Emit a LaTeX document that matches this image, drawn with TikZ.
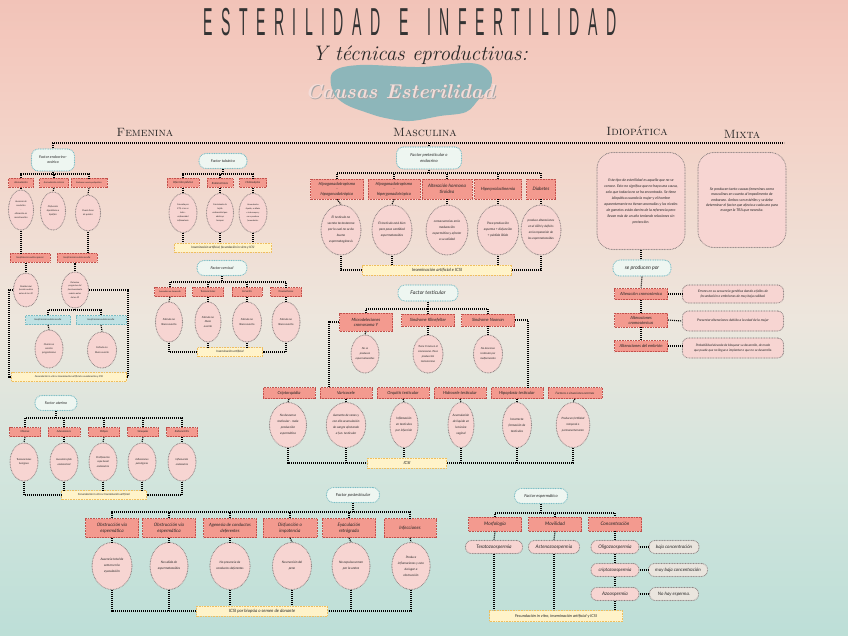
\documentclass[tikz,border=0pt]{standalone}
\usepackage{fontspec}
\newfontfamily\hand{Lato}
\newfontfamily\titlefont[LetterSpace=60]{Liberation Sans}
\usetikzlibrary{shapes.geometric,calc}
\definecolor{c0}{HTML}{A7D6D0}
\definecolor{c1}{HTML}{B4DCD5}
\definecolor{c2}{HTML}{D3E5DD}
\definecolor{c3}{HTML}{EDE6DD}
\definecolor{c4}{HTML}{F3D3C8}
\definecolor{c5}{HTML}{F2B9AE}
\definecolor{c6}{HTML}{F1ADA1}
\definecolor{redF}{HTML}{F39A8F}
\definecolor{redD}{HTML}{C2504C}
\definecolor{pinkF}{HTML}{F7D5D2}
\definecolor{grayD}{HTML}{8E8383}
\definecolor{mintF}{HTML}{EEF6F1}
\definecolor{tealD}{HTML}{78BCC4}
\definecolor{tealF}{HTML}{BFE1E3}
\definecolor{yelF}{HTML}{FFF3C9}
\definecolor{yelD}{HTML}{EFBE5E}
\definecolor{grayF}{HTML}{EAE5DE}
\definecolor{blob}{HTML}{8DB6BA}
\definecolor{causas}{HTML}{F4DCD8}
\pgfdeclareverticalshading{bgsh}{100bp}{color(0bp)=(c0); color(20bp)=(c1); color(38bp)=(c2); color(50bp)=(c3); color(64bp)=(c4); color(82bp)=(c5); color(100bp)=(c6)}
\tikzset{
  conn/.style={draw=black, line width=1.1pt, dash pattern=on 1.1pt off 0.9pt},
  fs/.style n args={2}{font=\hand\itshape\fontsize{#1}{#2}\selectfont},
  base/.style={align=center, inner sep=0.5pt, text=black!85, fs={3}{4}},
  redbox/.style n args={2}{base, rectangle, fill=redF, draw=redD, line width=0.7pt, dash pattern=on 0.9pt off 0.7pt, minimum width=#1, minimum height=#2},
  ell/.style n args={2}{base, ellipse, fill=pinkF, draw=grayD, line width=1.1pt, dash pattern=on 0pt off 1.6pt, line cap=round, minimum width=#1, minimum height=#2},
  tealbox/.style n args={2}{base, rectangle, rounded corners=7pt, fill=mintF, draw=tealD, line width=1.2pt, dash pattern=on 0pt off 1.7pt, line cap=round, minimum width=#1, minimum height=#2},
  tealrect/.style n args={2}{base, rectangle, fill=tealF, draw=tealD, line width=0.7pt, dash pattern=on 0.9pt off 0.7pt, minimum width=#1, minimum height=#2},
  yel/.style n args={2}{base, rectangle, fill=yelF, draw=yelD, line width=0.9pt, dash pattern=on 0.9pt off 0.7pt, minimum width=#1, minimum height=#2},
  pill/.style n args={2}{base, rectangle, rounded corners=6pt, fill=pinkF, draw=grayD, line width=1.1pt, dash pattern=on 0pt off 1.6pt, line cap=round, minimum width=#1, minimum height=#2},
  gpill/.style n args={2}{base, rectangle, rounded corners=6pt, fill=grayF, draw=grayD, line width=1.1pt, dash pattern=on 0pt off 1.6pt, line cap=round, minimum width=#1, minimum height=#2},
  bigbox/.style n args={2}{base, rectangle, rounded corners=16pt, fill=pinkF, draw=grayD, line width=1.1pt, dash pattern=on 0pt off 1.6pt, line cap=round, minimum width=#1, minimum height=#2},
  head/.style={font=\scshape\fontsize{12}{12}\selectfont, text=black!85}
}
\newcommand\tree[5]{%
  \draw[conn] (#1.south) -- (#1.south |- #2);
  \draw[conn] (#3.north) -- (#3.north |- #2) -- (#4.north |- #2) -- (#4.north);
  \foreach \c in {#5} {\draw[conn] (\c.north) -- (\c.north |- #2);}
}
\begin{document}
\begin{tikzpicture}[x=1pt,y=-1pt]
\useasboundingbox (0,0) rectangle (848,636);
\shade[shading=bgsh] (0,0) rectangle (848,636);
% ---------------- title
\fill[blob] plot[smooth cycle, tension=0.6] coordinates {(333,72) (360,65) (420,67) (470,63) (489,71) (491,86) (479,99) (466,112) (440,116) (410,121) (385,118) (365,112) (345,104) (333,92)};
\node[text=black!80] (title) at (410,22) {\scalebox{0.47}[1.3]{\titlefont\fontsize{30}{30}\selectfont ESTERILIDAD\hspace*{40pt}E\hspace*{40pt}INFERTILIDAD}};
\node[text=black!85] (subtitle) at (420,55) {\fontsize{21}{21}\selectfont\itshape Y técnicas eproductivas:};
\node[text=black!35] at (401,93) {\fontsize{20}{20}\selectfont\bfseries\itshape Causas Esterilidad};
\node[text=causas] (causas) at (400,92) {\fontsize{20}{20}\selectfont\bfseries\itshape Causas Esterilidad};
% headers
\node[head] (hFem) at (145,132) {Femenina};
\node[head] (hMas) at (425,132) {Masculina};
\node[head] (hIdi) at (637,131) {Idiopática};
\node[head] (hMix) at (742,134) {Mixta};
\coordinate (hL) at (52,143);
\coordinate (hR) at (784,143);
\draw[conn] (hL) -- (hR);
% ================= FEMENINA
% endocrino-ovarico
\node[tealbox={43}{22}, fs={3.8}{4.8}] (fEnd) at (53,160) {Factor endocrino-\\ovárico};
\node[redbox={25}{9}, fs={2.6}{3}] (anov) at (21,183) {Anovulación};
\node[redbox={29}{9}, fs={2.4}{3}] (anovc) at (54,183) {Anovulación crónica};
\node[redbox={36}{9}, fs={2.2}{3}] (sop) at (89,183) {Síndrome ovario poliquístico};
\node[ell={25}{40}, fs={2.3}{4}] (eAnov) at (21,210) {Ausencia de\\ovulación\\-\\alteración en\\menstruación};
\node[ell={25}{38}, fs={2.3}{4}] (eAnovc) at (53,211) {Disfunción\\hipotálamo e\\hipófisis};
\node[ell={25}{36}, fs={2.3}{4}] (eSop) at (88,213) {Ovario lleno\\de quistes};
\node[redbox={40}{9}, fs={2.4}{3}] (iop) at (30,258) {Insuficiencia ovárica precoz};
\node[redbox={40}{9}, fs={2.4}{3}] (ioo) at (77,258) {Insuficiencia ovárica oculta};
\node[ell={25}{34}, fs={2.2}{3.8}] (ePt) at (26,290) {Pérdida total\\función ovárica\\antes de los 40};
\node[ell={27}{36}, fs={2.2}{3.8}] (eDet) at (75,290) {Deterioro\\progresivo del\\funcionamiento\\ovárico antes\\de los 40};
\node[tealrect={45}{9}, fs={2.4}{3}] (tIo1) at (48,320) {Insuficiencia ovárica oculta};
\node[tealrect={50}{9}, fs={2.4}{3}] (tIo2) at (101,320) {Insuficiencia ovárica oculta};
\node[ell={28}{38}, fs={2.5}{4.2}] (eOv) at (49,349) {Ovario no\\secreta\\progesterona};
\node[ell={29}{36}, fs={2.5}{4.2}] (eFol) at (102,350) {Folículo no\\libera ovocito};
\node[yel={115}{9}, fs={2.5}{3}] (yFem1) at (69,377) {Fecundación in vitro e Inseminación artificial o ovodonación y ICSI};
\coordinate (bE) at (0,174);
\coordinate (bIo) at (0,310);
\coordinate (cR) at (128,290);
\tree{fEnd}{bE}{anov}{sop}{anovc}
\draw[conn] (fEnd.north) -- (fEnd.north |- hL);
\draw[conn] (anov.south) -- (eAnov.north);
\draw[conn] (anovc.south) -- (eAnovc.north);
\draw[conn] (sop.south) -- (eSop.north);
\draw[conn] (eAnov.south) -- (eAnov.south |- iop.north);
\draw[conn] (eSop.south) -- (eSop.south |- ioo.north);
\draw[conn] (ePt.north) -- (ePt.north |- iop.south);
\draw[conn] (eDet.north) -- (eDet.north |- ioo.south);
\tree{eDet}{bIo}{tIo1}{tIo2}{tIo2}
\draw[conn] (tIo1.south) -- (eOv.north);
\draw[conn] (tIo2.south) -- (eFol.north);
\draw[conn] (ePt.west) -- ++(-4,0) |- (yFem1.west);
\draw[conn] (eDet.east) -- (cR) |- (yFem1.east);
% tubarico
\node[tealbox={48}{15}, fs={3.8}{4.8}] (fTub) at (223,161) {Factor tubárico};
\node[redbox={32}{9}, fs={2.9}{3.4}] (infp) at (183,183) {Infección pélvica};
\node[redbox={26}{9}, fs={2.8}{3.4}] (endo) at (220,183) {Endometriosis};
\node[redbox={27}{9}, fs={2.8}{3.4}] (hidro) at (253,183) {Hidrosalpinx};
\node[ell={28}{39}, fs={2.2}{4}] (eInf) at (183,213) {Causada por\\ETS, si no se\\trata -\\enfermedad\\inflamatoria};
\node[ell={27}{39}, fs={2.2}{4}] (eEndo) at (220,213) {Crecimiento de\\tejido\\endometrial que\\obstruye\\trompas};
\node[ell={28}{39}, fs={2.1}{4}] (eHid) at (253,213) {Acumulación\\líquido, se dilata\\e interrumpe y\\no se produce\\fecundación.};
\node[yel={97}{9}, fs={3.1}{3.6}] (yTub) at (223,248) {Inseminación artificial, fecundación in vitro y ICSI};
\coordinate (bTub) at (0,174);
\tree{fTub}{bTub}{infp}{hidro}{endo}
\draw[conn] (infp.south) -- (eInf.north);
\draw[conn] (endo.south) -- (eEndo.north);
\draw[conn] (hidro.south) -- (eHid.north);
\foreach \e in {eInf,eEndo,eHid} {\draw[conn] (\e.south) -- (\e.south |- yTub.north);}
% cervical
\node[tealbox={50}{15}, fs={3.8}{4.8}] (fCer) at (222,268) {Factor cervical};
\node[redbox={31}{9}, fs={2.2}{3}] (c1) at (170,292) {Anomalías en desarrollo};
\node[redbox={31}{9}, fs={2.6}{3}] (c2) at (208,292) {Tumoraciones};
\node[redbox={30}{9}, fs={2.6}{3}] (c3) at (247,292) {Cervicitis};
\node[redbox={31}{9}, fs={2.6}{3}] (c4) at (286,292) {Traumatismos};
\node[ell={27}{40}, fs={2.7}{4.5}] (eC1) at (169,322) {Folículo no\\libera ovocito};
\node[ell={26}{40}, fs={2.7}{4.5}] (eC2) at (208,322) {Folículo no\\libera\\ovocito};
\node[ell={29}{40}, fs={2.7}{4.5}] (eC3) at (247,322) {Folículo no\\libera ovocito};
\node[ell={28}{40}, fs={2.7}{4.5}] (eC4) at (286,322) {Folículo no\\libera ovocito};
\node[yel={65}{9}, fs={3}{3.6}] (yCer) at (230,352) {Inseminación artificial};
\coordinate (bCer) at (0,282);
\tree{fCer}{bCer}{c1}{c4}{c2,c3}
\draw[conn] (c1.south) -- (eC1.north);
\draw[conn] (c2.south) -- (eC2.north);
\draw[conn] (c3.south) -- (eC3.north);
\draw[conn] (c4.south) -- (eC4.north);
\draw[conn] (eC1.south) |- (yCer.west);
\draw[conn] (eC4.south) |- (yCer.east);
\draw[conn] (eC2.south) -- (eC2.south |- yCer.north);
\draw[conn] (eC3.south) -- (eC3.south |- yCer.north);
% uterino
\node[tealbox={42}{15}, fs={3.8}{4.8}] (fUt) at (56,403) {Factor uterino};
\node[redbox={31}{9}, fs={2.7}{3}] (u1) at (25,432) {Miomas};
\node[redbox={32}{9}, fs={2.7}{3}] (u2) at (64,432) {Adenomiosis};
\node[redbox={31}{9}, fs={2.7}{3}] (u3) at (104,432) {Pólipos};
\node[redbox={31}{9}, fs={2.7}{3}] (u4) at (143,432) {Sinequias};
\node[redbox={31}{9}, fs={2.7}{3}] (u5) at (182,432) {Endometritis};
\node[ell={28}{38}, fs={2.6}{4.4}] (eu1) at (24,462) {Tumoraciones\\benignas};
\node[ell={28}{38}, fs={2.6}{4.4}] (eu2) at (64,462) {Invasión tejido\\endometrial};
\node[ell={28}{38}, fs={2.6}{4.4}] (eu3) at (103,462) {Proliferación\\capa basal\\endometrio};
\node[ell={28}{38}, fs={2.6}{4.4}] (eu4) at (142,462) {Adherencias\\patológicas};
\node[ell={28}{38}, fs={2.6}{4.4}] (eu5) at (182,462) {Inflamación\\endometrio};
\node[yel={85}{9}, fs={2.8}{3.4}] (yUt) at (104,495) {Fecundación in vitro e Inseminación artificial};
\coordinate (bUt) at (0,418);
\tree{fUt}{bUt}{u1}{u5}{u2,u3,u4}
\foreach \i in {1,...,5} {\draw[conn] (u\i.south) -- (eu\i.north);}
\draw[conn] (eu1.south) |- (yUt.west);
\draw[conn] (eu5.south) |- (yUt.east);
\foreach \e in {eu2,eu3,eu4} {\draw[conn] (\e.south) -- (\e.south |- yUt.north);}
% ================= MASCULINA
% pretesticular
\node[tealbox={65}{22}, fs={4.2}{5.4}] (fPre) at (429,158) {Factor pretesticular o\\endocrino};
\node[redbox={53}{20}, fs={4.2}{5.1}] (p1) at (337,189) {Hipogonadotropismo\\-\\hipogonadotrópico};
\node[redbox={52}{20}, fs={4.2}{5.1}] (p2) at (394,189) {Hipogonadotropismo\\-\\hipergonadotrópico};
\node[redbox={50}{20}, fs={4.6}{6.2}] (p3) at (447,189) {Alteración hormona\\tiroidea};
\node[redbox={47}{20}, fs={4.3}{5.1}] (p4) at (498,189) {Hiperprolactinemia};
\node[redbox={29}{20}, fs={4.6}{5.1}] (p5) at (541,189) {Diabetes};
\node[ell={40}{50}, fs={3.2}{6}] (ep1) at (341,230) {El testículo no\\secreta testosterona\\por lo cual no se da\\buena\\espermatogénesis};
\node[ell={40}{50}, fs={3.2}{6}] (ep2) at (392,230) {El testículo está bien\\pero poca cantidad\\espermatozoides};
\node[ell={41}{50}, fs={3.2}{6}] (ep3) at (447,230) {consecuencias en la\\maduración\\espermática y afectar\\a su calidad};
\node[ell={40}{50}, fs={3.2}{6}] (ep4) at (498,230) {Poca producción\\esperma + disfunción\\+ pérdida libido};
\node[ell={40}{50}, fs={3.1}{6}] (ep5) at (541,230) {produce alteraciones\\en el ADN y déficits\\en la reparación de\\los espermatozoides};
\node[yel={149}{10}, fs={4.3}{5}] (yPre) at (437,270) {Inseminación artificial e ICSI};
\coordinate (bPre) at (0,173);
\tree{fPre}{bPre}{p1}{p5}{p2,p3,p4}
\draw[conn] (fPre.north) -- (fPre.north |- hL);
\foreach \i in {1,...,5} {\draw[conn] (p\i.south) -- (ep\i.north);}
\draw[conn] (ep1.south) |- (yPre.west);
\draw[conn] (ep5.south) |- (yPre.east);
\draw[conn] (ep2.south) -- (ep2.south |- yPre.north);
\draw[conn] (ep4.south) -- (ep4.south |- yPre.north);
% testicular
\node[tealbox={60}{16}, fs={5.2}{6}] (fTes) at (428,293) {Factor testicular};
\node[redbox={53}{18}, fs={4.3}{5}] (m1) at (366,322) {Microdeleciones\\cromosoma Y};
\node[redbox={53}{12}, fs={4.3}{5}] (m2) at (428,320) {Síndrome Klinefelter};
\node[redbox={53}{12}, fs={4.3}{5}] (m3) at (488,320) {Síndrome Noonan};
\node[ell={28}{38}, fs={2.7}{5}] (em1) at (365,354) {No se\\producen\\espermatozoides};
\node[ell={30}{38}, fs={2.7}{5}] (em2) at (428,354) {Tiene X más en el\\cromosoma. Poca\\producción\\testosterona};
\node[ell={29}{38}, fs={2.7}{5}] (em3) at (488,354) {No descenso\\testicular por\\malformación};
\node[redbox={52}{11}, fs={4.2}{5}] (t1) at (289,393) {Criptorquidia};
\node[redbox={52}{11}, fs={4.2}{5}] (var) at (346,393) {Varicocele};
\node[redbox={52}{11}, fs={4.2}{5}] (t3) at (403,393) {Orquitis testicular};
\node[redbox={52}{11}, fs={4.2}{5}] (t4) at (460,393) {Hidrocele testicular};
\node[redbox={52}{11}, fs={4.2}{5}] (hip) at (517,393) {Hipoplasia testicular};
\node[redbox={54}{11}, fs={3}{5}] (t6) at (575,393) {Factores o situaciones externas};
\node[ell={37}{45}, fs={3.1}{6}] (et1) at (288,425) {No descenso\\testicular - mala\\producción\\espermática};
\node[ell={38}{45}, fs={3.1}{6}] (et2) at (346,425) {Aumento de venas y\\con ello acumulación\\de sangre afectando\\a fun. testicular};
\node[ell={28}{45}, fs={3.1}{6}] (et3) at (404,425) {Inflamación\\en testículos\\por infección};
\node[ell={26}{45}, fs={3.1}{6}] (et4) at (461,425) {Acumulación\\de líquido en\\la túnica\\vaginal};
\node[ell={29}{45}, fs={3.1}{6}] (et5) at (517,425) {Incorrecta\\formación de\\testículos};
\node[ell={32}{45}, fs={2.9}{6}] (et6) at (573,425) {Producen fertilidad\\temporal o\\permanentemente};
\node[yel={79}{10}, fs={4.2}{5}] (yTes) at (407,463) {ICSI};
\coordinate (bTes) at (0,309);
\coordinate (mL) at (329,322);
\coordinate (mR) at (528,320);
\tree{fTes}{bTes}{m1}{m3}{m2}
\draw[conn] (m1.south) -- (em1.north);
\draw[conn] (m2.south) -- (em2.north);
\draw[conn] (m3.south) -- (em3.north);
\draw[conn] (m1.west) -- (mL) -- (mL |- var.north);
\draw[conn] (m3.east) -- (mR) -- (mR |- hip.north);
\draw[conn] (t1.south) -- (et1.north);
\draw[conn] (var.south) -- (et2.north);
\draw[conn] (t3.south) -- (et3.north);
\draw[conn] (t4.south) -- (et4.north);
\draw[conn] (hip.south) -- (et5.north);
\draw[conn] (t6.south) -- (et6.north);
\draw[conn] (et1.south) |- (yTes.west);
\draw[conn] (et6.south) |- (yTes.east);
\draw[conn] (et2.south) -- (et2.south |- yTes.west);
\draw[conn] (et3.south) -- (et3.south |- yTes.north);
\draw[conn] (et4.south) -- (et4.south |- yTes.east);
\draw[conn] (et5.south) -- (et5.south |- yTes.east);
% postesticular
\node[tealbox={53}{15}, fs={4.2}{5}] (fPos) at (353,495) {Factor postesticular};
\node[redbox={53}{19}, fs={4.6}{5.6}] (q1) at (112,528) {Obstrucción vía\\espermática};
\node[redbox={53}{19}, fs={4.6}{5.6}] (q2) at (169,528) {Obstrucción vía\\espermática};
\node[redbox={53}{19}, fs={4.4}{5.6}] (q3) at (230,528) {Agenesia de conductos\\deferentes};
\node[redbox={54}{19}, fs={4.6}{5.6}] (q4) at (290,528) {Disfunción o\\impotencia};
\node[redbox={53}{19}, fs={4.6}{5.6}] (q5) at (349,528) {Eyaculación\\retrógrada};
\node[redbox={52}{19}, fs={4.6}{5.6}] (q6) at (410,528) {Infecciones};
\node[ell={40}{47}, fs={3.2}{6}] (eq1) at (112,566) {Ausencia total de\\semen en la\\eyaculación};
\node[ell={38}{47}, fs={3.2}{6}] (eq2) at (169,566) {No salida de\\espermatozoides};
\node[ell={39}{47}, fs={3.1}{6}] (eq3) at (230,566) {No presencia de\\conductos deferentes};
\node[ell={39}{47}, fs={3.2}{6}] (eq4) at (292,566) {No erección del\\pene};
\node[ell={38}{47}, fs={3.2}{6}] (eq5) at (351,566) {No expulsa semen\\por la uretra};
\node[ell={38}{47}, fs={3.1}{6}] (eq6) at (411,566) {Produce\\inflamaciones y esto\\da lugar a\\obstrucción};
\node[yel={131}{10}, fs={4.4}{5}] (yPos) at (262,611) {ICSI por biopsia o semen de donante};
\coordinate (bPos) at (0,512);
\tree{fPos}{bPos}{q1}{q6}{q2,q3,q4,q5}
\foreach \i in {1,...,6} {\draw[conn] (q\i.south) -- (eq\i.north);}
\draw[conn] (eq1.south) |- (yPos.west);
\draw[conn] (eq6.south) |- (yPos.east);
\draw[conn] (eq2.south) -- (eq2.south |- yPos.west);
\draw[conn] (eq3.south) -- (eq3.south |- yPos.north);
\draw[conn] (eq4.south) -- (eq4.south |- yPos.north);
\draw[conn] (eq5.south) -- (eq5.south |- yPos.east);
% espermatico
\node[tealbox={53}{15}, fs={4.2}{5}] (fEsp) at (541,496) {Factor espermático};
\node[redbox={53}{14}, fs={4.8}{5.6}] (morf) at (495,524) {Morfología};
\node[redbox={53}{14}, fs={4.8}{5.6}] (mov) at (555,524) {Movilidad};
\node[redbox={53}{14}, fs={4.8}{5.6}] (conc) at (615,524) {Concentración};
\node[pill={57}{13}, fs={4.8}{5.6}] (tera) at (494,547) {Teratozoospermia};
\node[pill={51}{13}, fs={4.8}{5.6}] (aste) at (554,547) {Astenozoospermia};
\node[pill={48}{13}, fs={4.8}{5.6}] (olig) at (615,547) {Oligozoospermia};
\node[pill={48}{13}, fs={4.6}{5.6}] (cripto) at (615,570) {criptozoospermia};
\node[pill={48}{13}, fs={4.8}{5.6}] (azoo) at (615,594) {Azoospermia};
\node[gpill={50}{13}, fs={4.6}{5.6}] (g1) at (674,547) {baja concentración};
\node[gpill={59}{13}, fs={4.6}{5.6}] (g2) at (678,570) {muy baja concentración};
\node[gpill={49}{13}, fs={4.6}{5.6}] (g3) at (674,594) {No hay esperma.};
\node[yel={133}{11}, fs={4}{5}] (yEsp) at (556,616) {Fecundación in vitro, inseminación artificial y ICSI};
\coordinate (bEsp) at (0,513);
\tree{fEsp}{bEsp}{morf}{conc}{mov}
\draw[conn] (morf.south) -- (tera.north);
\draw[conn] (mov.south) -- (aste.north);
\draw[conn] (conc.south) -- (olig.north);
\draw[conn] (olig.south) -- (cripto.north);
\draw[conn] (cripto.south) -- (azoo.north);
\draw[conn] (olig.east) -- (g1.west);
\draw[conn] (cripto.east) -- (g2.west);
\draw[conn] (azoo.east) -- (g3.west);
\draw[conn] (tera.south) -- (tera.south |- yEsp.north);
\draw[conn] (aste.south) -- (aste.south |- yEsp.north);
\draw[conn] (azoo.south) -- (azoo.south |- yEsp.north);
% ================= IDIOPATICA / MIXTA
\node[bigbox={88}{97}, fs={3.65}{6}] (idio) at (641,201) {Este tipo de esterilidad es aquella que no se\\conoce. Esto no significa que no haya una causa,\\solo que todavía no se ha encontrado. Se tiene\\idiopática cuando la mujer y el hombre\\aparentemente no tienen anomalías y los niveles\\de gametos están dentro de la referencia pero\\llevan más de un año teniendo relaciones sin\\protección.};
\node[bigbox={88}{95}, fs={3.65}{5.4}] (mixta) at (742,200) {Se producen tanto causas femeninas como\\masculinas en cuanto al impedimento de\\embarazo. Ambos son estériles y se debe\\determinar el factor que afecta a cada uno para\\escoger la TRA que necesita.};
\node[tealbox={58}{16}, fs={5.2}{6}] (seprod) at (642,268) {se producen por};
\node[redbox={53}{11}, fs={4.2}{5}] (ac1) at (641,294) {Alteración cromosómica};
\node[redbox={53}{14}, fs={4.2}{5}] (ac2) at (641,320) {Alteraciones\\cromosómicas};
\node[redbox={53}{11}, fs={4.2}{5}] (aem) at (641,346) {Alteraciones del embrión};
\node[pill={101}{18}, fs={3.4}{5}] (r1) at (733,294) {Errores en su secuencia genética dando a fallos de\\fecundación o embriones de muy baja calidad.};
\node[pill={101}{20}, fs={3.4}{5}] (r2) at (733,321) {Presentar alteraciones debido a la edad de la mujer};
\node[pill={101}{20}, fs={3.2}{5}] (r3) at (733,348) {Probabilidad elevada de bloquear su desarrollo, de modo\\que puede que no llegue a implantar o que no se desarrolle.};
\draw[conn] (idio.south) -- (idio.south |- seprod.north);
\draw[conn] (seprod.south) -- (ac1.north);
\draw[conn] (ac1.south) -- (ac2.north);
\draw[conn] (ac2.south) -- (aem.north);
\draw[conn] (ac1.east) -- (r1.west);
\draw[conn] (ac2.east) -- (r2.west);
\draw[conn] (aem.east) -- (aem.east -| r3.west);
\end{tikzpicture}
\end{document}
